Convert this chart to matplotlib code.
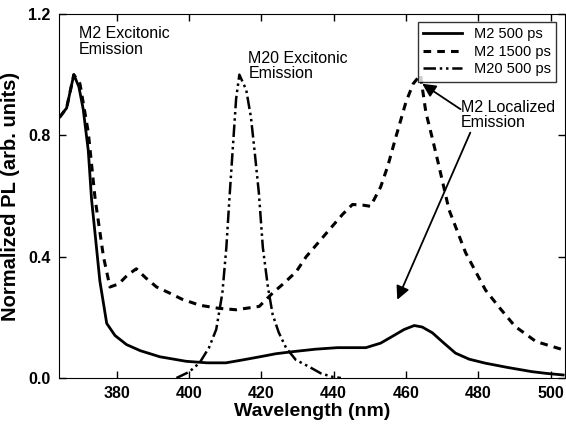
import matplotlib.pyplot as plt

plt.rcParams['font.family'] = ['Liberation Sans', 'DejaVu Sans']

# M2 500 ps (solid)
wl_m2_500 = [364.2, 366.1, 368.1, 369.5, 370.7, 372.1, 373.0, 374.2, 375.3, 377.2, 379.5, 382.7, 386.5, 391.9,
             399.2, 405, 410.2, 415, 419.6, 424, 428.8, 435, 441, 448.9, 453, 456.2, 459.5, 462.3,
             464.5, 467.3, 470.5, 473.7, 477.5, 481.9, 488, 494.8, 499, 503.5]
pl_m2_500 = [0.86, 0.89, 1.00, 0.96, 0.886, 0.75, 0.59, 0.45, 0.32, 0.18, 0.14, 0.11, 0.09, 0.07,
             0.055, 0.05, 0.05, 0.06, 0.07, 0.08, 0.087, 0.095, 0.10, 0.10, 0.115, 0.137, 0.16, 0.173,
             0.168, 0.149, 0.115, 0.082, 0.062, 0.049, 0.035, 0.021, 0.015, 0.01]

# M2 1500 ps (dashed)
wl_m2_1500 = [364.2, 366.1, 368.1, 369.8, 372.1, 374.0, 376.3, 378.1, 380.5, 383, 385.4, 388, 391, 394.6,
              398, 402.9, 408, 413.0, 419.4, 423.1, 426, 429.6, 432.4, 436, 439.6, 442.5, 445.2, 448,
              450.2, 453.0, 455, 457.1, 460.0, 462, 464.0, 465.5, 467.3, 469.1, 471.9, 476.5, 482.0, 486,
              490.2, 496, 503.5]
pl_m2_1500 = [0.86, 0.89, 1.00, 0.97, 0.81, 0.59, 0.40, 0.30, 0.31, 0.34, 0.36, 0.33, 0.30, 0.28,
              0.26, 0.24, 0.23, 0.225, 0.236, 0.28, 0.31, 0.35, 0.40, 0.45, 0.50, 0.54, 0.572, 0.57,
              0.566, 0.63, 0.70, 0.79, 0.91, 0.97, 1.00, 0.876, 0.79, 0.70, 0.555, 0.413, 0.29, 0.23,
              0.17, 0.12, 0.093]

# M20 500 ps (dash-dot-dot)
wl_m20_500 = [396.5, 400, 402.9, 405.5, 407.5, 409.2, 410.3, 411.2, 412.1, 413.0, 413.9, 415.8, 417.1,
              418.1, 419.3, 420.4, 421.8, 423.1, 424.8, 426.8, 429.5, 433.2, 436.5, 439.6, 442]
pl_m20_500 = [0.0, 0.02, 0.05, 0.10, 0.16, 0.28, 0.43, 0.60, 0.76, 0.92, 1.00, 0.95, 0.86,
              0.75, 0.61, 0.43, 0.30, 0.21, 0.15, 0.10, 0.06, 0.037, 0.015, 0.004, 0.0]

x_ticks = [380, 400, 420, 440, 460, 480, 500]
y_ticks = [0.0, 0.4, 0.8, 1.2]
y_tick_labels = ['0.0', '0.4', '0.8', '1.2']

fig = plt.figure(figsize=(5.66, 4.29), dpi=100)
ax = fig.add_axes([59 / 566, 51 / 429, 506 / 566, 364 / 429])

ax.plot(wl_m2_500, pl_m2_500, color='black', lw=2.0, label='M2 500 ps')
ax.plot(wl_m2_1500, pl_m2_1500, color='black', lw=2.2, ls=(0, (2.5, 2)), label='M2 1500 ps')
ax.plot(wl_m20_500, pl_m20_500, color='black', lw=1.8,
        ls=(0, (5, 1.5, 1, 1.5, 1, 1.5)), label='M20 500 ps')

ax.set_xlim(364, 504)
ax.set_ylim(0, 1.2)
ax.set_xticks(x_ticks)
ax.set_yticks(y_ticks)
ax.set_yticklabels(y_tick_labels)
ax.tick_params(direction='in', top=True, right=True, length=5, width=1, pad=6)
for lab in ax.get_xticklabels() + ax.get_yticklabels():
    lab.set_fontweight('bold')
    lab.set_fontsize(11.5)

ax.set_xlabel('Wavelength (nm)', fontsize=14, fontweight='bold', labelpad=1)
ax.set_ylabel('Normalized PL (arb. units)', fontsize=14.5, fontweight='bold', labelpad=6)

ax.text(369.5, 1.109, 'M2 Excitonic\nEmission', fontsize=11.5, va='center', ha='left',
        linespacing=1.05)
ax.text(416.4, 1.028, 'M20 Excitonic\nEmission', fontsize=11.5, va='center', ha='left',
        linespacing=1.05)
ax.text(475.2, 0.868, 'M2 Localized\nEmission', fontsize=11.5, va='center', ha='left',
        linespacing=1.0)

ax.annotate('', xy=(464.5, 0.97), xytext=(475.1, 0.886),
            arrowprops=dict(arrowstyle='-|>', color='black', lw=1.3, mutation_scale=20,
                            shrinkA=0, shrinkB=0))
ax.annotate('', xy=(457.6, 0.258), xytext=(477.8, 0.809),
            arrowprops=dict(arrowstyle='-|>', color='black', lw=1.3, mutation_scale=20,
                            shrinkA=0, shrinkB=0))

leg = ax.legend(loc='upper right', fontsize=10.5, frameon=True, fancybox=False,
                edgecolor='black', handlelength=2.7, borderpad=0.35, labelspacing=0.25,
                handletextpad=0.8, borderaxespad=0, bbox_to_anchor=(0.982, 0.978))
leg.get_frame().set_linewidth(1.0)

fig.savefig('out.png', dpi=100)
